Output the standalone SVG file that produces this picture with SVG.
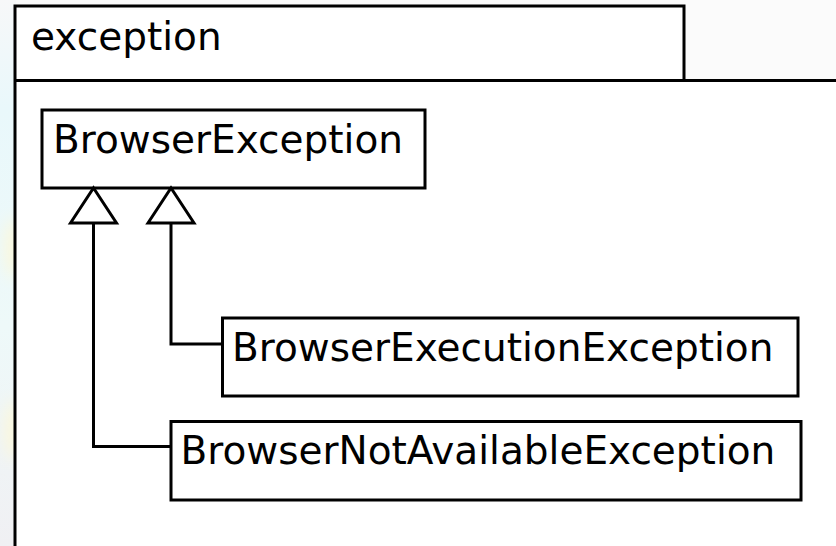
<svg xmlns="http://www.w3.org/2000/svg" width="836" height="546" viewBox="0 0 836 546">
<style>
.ln{fill:none;stroke:#000;stroke-width:3}
.box{fill:#fff;stroke:#000;stroke-width:3}
.t{font-family:"DejaVu Sans","Liberation Sans",sans-serif;font-size:39px;fill:#000}
</style>
<defs>
<linearGradient id="strip" x1="0" y1="0" x2="0" y2="1">
<stop offset="0" stop-color="#f7f8f9"/>
<stop offset="0.2" stop-color="#e9f8fb"/>
<stop offset="0.6" stop-color="#eef9f9"/>
<stop offset="1" stop-color="#f0f0f3"/>
</linearGradient>
<filter id="blur" x="-1" y="-1" width="3" height="3"><feGaussianBlur stdDeviation="8"/></filter>
<marker id="gen" markerUnits="userSpaceOnUse" viewBox="0 0 35 46" refX="35" refY="23" markerWidth="35" markerHeight="46" orient="auto" overflow="visible">
<path d="M0,0 L35,23 L0,46 Z" fill="#fff" stroke="#000" stroke-width="3" stroke-linejoin="miter"/>
</marker>
</defs>
<rect x="0" y="0" width="836" height="546" fill="#fbfbfb"/>
<rect x="0" y="0" width="16" height="546" fill="url(#strip)"/>
<g filter="url(#blur)">
<ellipse cx="14" cy="248" rx="8" ry="30" fill="#fdf8d8"/>
<ellipse cx="14" cy="430" rx="8" ry="30" fill="#fdf8d8"/>
</g>
<g id="package-exception">
<rect x="15" y="80.5" width="830" height="480" fill="#fff"/>
<rect x="15" y="6" width="669" height="74.5" fill="#fff"/>
<path class="ln" d="M15,550 V6 H684 V80.5"/>
<path class="ln" d="M15,80.5 H840"/>
<text class="t" x="31" y="49.5">exception</text>
</g>
<g id="BrowserException">
<rect class="box" x="42" y="110" width="383" height="78"/>
<text class="t" x="53" y="153">BrowserException</text>
</g>
<g id="BrowserExecutionException">
<rect class="box" x="222.5" y="318" width="575.5" height="78"/>
<text class="t" x="232" y="361">BrowserExecutionException</text>
</g>
<g id="BrowserNotAvailableException">
<rect class="box" x="171" y="421.5" width="630" height="78.5"/>
<text class="t" x="180.5" y="464">BrowserNotAvailableException</text>
</g>
<g id="connectors">
<path class="ln" d="M222.5,344 H171 V188" marker-end="url(#gen)"/>
<path class="ln" d="M171,446.5 H93.5 V188" marker-end="url(#gen)"/>
</g>
</svg>
